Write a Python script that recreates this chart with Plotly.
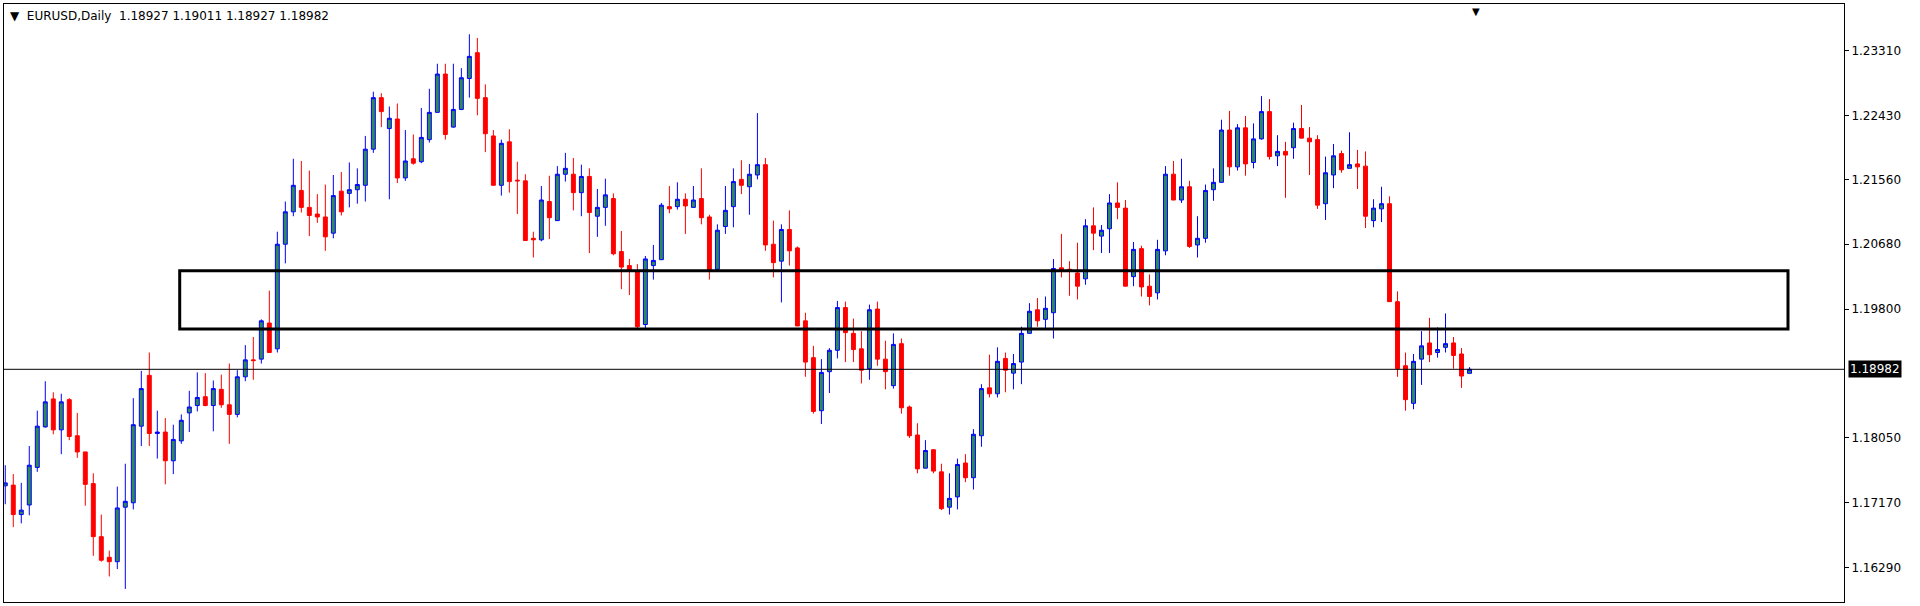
import plotly.graph_objects as go

# daily EURUSD candles (oldest first)
opens = [1.1740, 1.1741, 1.1701, 1.1714, 1.1765, 1.1820, 1.1858, 1.1816, 1.1857, 1.1808,
         1.1786, 1.1743, 1.1671, 1.1643, 1.1637, 1.1711, 1.1717, 1.1821, 1.1890, 1.1811,
         1.1813, 1.1774, 1.1801, 1.1839, 1.1849, 1.1861, 1.1849, 1.1871, 1.1850, 1.1837,
         1.1888, 1.1911, 1.1912, 1.1961, 1.1926, 1.2068, 1.2112, 1.2141, 1.2118, 1.2109,
         1.2105, 1.2083, 1.2140, 1.2137, 1.2142, 1.2148, 1.2197, 1.2267, 1.2225, 1.2238,
         1.2158, 1.2184, 1.2180, 1.2210, 1.2247, 1.2299, 1.2227, 1.2251, 1.2293, 1.2328,
         1.2267, 1.2215, 1.2148, 1.2207, 1.2155, 1.2154, 1.2076, 1.2074, 1.2126, 1.2100,
         1.2163, 1.2163, 1.2138, 1.2160, 1.2106, 1.2118, 1.2130, 1.2058, 1.2039, 1.2031,
         1.1959, 1.2039, 1.2047, 1.2119, 1.2119, 1.2129, 1.2118, 1.2130, 1.2105, 1.2034,
         1.2092, 1.2119, 1.2156, 1.2146, 1.2162, 1.2176, 1.2068, 1.2045, 1.2088, 1.2063,
         1.1964, 1.1914, 1.1842, 1.1895, 1.1924, 1.1982, 1.1947, 1.1926, 1.1899, 1.1980,
         1.1912, 1.1876, 1.1933, 1.1847, 1.1809, 1.1764, 1.1789, 1.1759, 1.1711, 1.1725,
         1.1771, 1.1751, 1.1808, 1.1873, 1.1865, 1.1913, 1.1893, 1.1908, 1.1947, 1.1979,
         1.1966, 1.1975, 1.2036, 1.2034, 1.2029, 1.2021, 1.2093, 1.2079, 1.2089, 1.2124,
         1.2117, 1.2024, 1.2062, 1.2011, 1.2002, 1.2059, 1.2163, 1.2128, 1.2146, 1.2067,
         1.2076, 1.2142, 1.2152, 1.2223, 1.2173, 1.2226, 1.2179, 1.2211, 1.2248, 1.2188,
         1.2194, 1.2199, 1.2225, 1.2212, 1.2210, 1.2123, 1.2162, 1.2191, 1.2171, 1.2177,
         1.2174, 1.2100, 1.2116, 1.2123, 1.1990, 1.1903, 1.1852, 1.1912, 1.1934, 1.1921,
         1.1928, 1.1934, 1.1919, 1.18927]
highs = [1.1768, 1.1756, 1.1744, 1.1794, 1.1842, 1.1882, 1.1867, 1.1865, 1.1859, 1.1839,
         1.1786, 1.1757, 1.1701, 1.1652, 1.1739, 1.1770, 1.1859, 1.1896, 1.1921, 1.1842,
         1.1832, 1.1823, 1.1837, 1.1869, 1.1894, 1.1893, 1.1883, 1.1891, 1.1906, 1.1897,
         1.1931, 1.1942, 1.1966, 1.2005, 1.2085, 1.2126, 1.2184, 1.2181, 1.2168, 1.2136,
         1.2149, 1.2162, 1.2166, 1.2179, 1.2171, 1.2215, 1.2275, 1.2273, 1.2255, 1.2259,
         1.2223, 1.2217, 1.2253, 1.2279, 1.2313, 1.2313, 1.2313, 1.2307, 1.2353, 1.2348,
         1.2285, 1.2223, 1.2210, 1.2224, 1.2180, 1.2163, 1.2085, 1.2147, 1.2161, 1.2174,
         1.2192, 1.2185, 1.2176, 1.2171, 1.2143, 1.2157, 1.2137, 1.2086, 1.2048, 1.2041,
         1.2052, 1.2067, 1.2124, 1.2147, 1.2152, 1.2137, 1.2147, 1.2171, 1.2108, 1.2095,
         1.2147, 1.2171, 1.2182, 1.2177, 1.2246, 1.2185, 1.2100, 1.2095, 1.2114, 1.2065,
         1.1975, 1.1930, 1.1912, 1.1927, 1.1991, 1.1990, 1.1967, 1.1950, 1.1986, 1.1990,
         1.1937, 1.1947, 1.1940, 1.1849, 1.1825, 1.1802, 1.1790, 1.1770, 1.1757, 1.1777,
         1.1783, 1.1817, 1.1878, 1.1918, 1.1928, 1.1921, 1.1919, 1.1956, 1.1988, 1.1995,
         1.1997, 1.2048, 1.2082, 1.2045, 1.2070, 1.2102, 1.2118, 1.2094, 1.2136, 1.2152,
         1.2128, 1.2071, 1.2066, 1.2027, 1.2074, 1.2174, 1.2181, 1.2184, 1.2154, 1.2106,
         1.2149, 1.2171, 1.2237, 1.2249, 1.2231, 1.2242, 1.2232, 1.2269, 1.2265, 1.2216,
         1.2207, 1.2233, 1.2257, 1.2227, 1.2216, 1.2187, 1.2204, 1.2195, 1.2220, 1.2196,
         1.2194, 1.2129, 1.2146, 1.2133, 1.2004, 1.1921, 1.1919, 1.1950, 1.1968, 1.1955,
         1.1974, 1.1942, 1.1927, 1.19011]
lows = [1.1715, 1.1684, 1.1689, 1.1700, 1.1759, 1.1819, 1.1810, 1.1783, 1.1802, 1.1778,
        1.1713, 1.1645, 1.1637, 1.1617, 1.1627, 1.1600, 1.1708, 1.1794, 1.1794, 1.1777,
        1.1742, 1.1756, 1.1797, 1.1813, 1.1841, 1.1848, 1.1814, 1.1846, 1.1797, 1.1833,
        1.1882, 1.1884, 1.1906, 1.1921, 1.1921, 1.2042, 1.2106, 1.2111, 1.2079, 1.2097,
        1.2059, 1.2076, 1.2107, 1.2118, 1.2123, 1.2126, 1.2192, 1.2227, 1.2129, 1.2151,
        1.2154, 1.2176, 1.2178, 1.2206, 1.2247, 1.2210, 1.2226, 1.2250, 1.2267, 1.2243,
        1.2193, 1.2148, 1.2134, 1.2138, 1.2109, 1.2073, 1.2050, 1.2072, 1.2075, 1.2100,
        1.2153, 1.2114, 1.2106, 1.2056, 1.2078, 1.2093, 1.2053, 1.2007, 1.1999, 1.1954,
        1.1953, 1.2020, 1.2047, 1.2110, 1.2115, 1.2082, 1.2118, 1.2095, 1.2020, 1.2031,
        1.2082, 1.2091, 1.2136, 1.2108, 1.2156, 1.2059, 1.2023, 1.1989, 1.2039, 1.1957,
        1.1888, 1.1838, 1.1824, 1.1866, 1.1913, 1.1908, 1.1908, 1.1879, 1.1884, 1.1903,
        1.1871, 1.1872, 1.1838, 1.1805, 1.1757, 1.1764, 1.1757, 1.1707, 1.1701, 1.1708,
        1.1745, 1.1735, 1.1793, 1.1860, 1.1860, 1.1867, 1.1871, 1.1878, 1.1947, 1.1956,
        1.1953, 1.1940, 1.2023, 1.1998, 1.1993, 1.2013, 1.2060, 1.2056, 1.2056, 1.2102,
        1.2011, 1.2011, 1.1997, 1.1985, 1.1993, 1.2053, 1.2128, 1.2124, 1.2063, 1.2050,
        1.2070, 1.2127, 1.2152, 1.2161, 1.2168, 1.2161, 1.2171, 1.2210, 1.2183, 1.2174,
        1.2131, 1.2184, 1.2212, 1.2162, 1.2116, 1.2101, 1.2144, 1.2165, 1.2171, 1.2143,
        1.2090, 1.2091, 1.2098, 1.1990, 1.1888, 1.1842, 1.1844, 1.1877, 1.1908, 1.1914,
        1.1921, 1.1899, 1.1873, 1.18927]
closes = [1.1744, 1.1701, 1.1707, 1.1768, 1.1821, 1.1854, 1.1816, 1.1854, 1.1807, 1.1786,
          1.1742, 1.1671, 1.1639, 1.1637, 1.1710, 1.1719, 1.1823, 1.1872, 1.1811, 1.1813,
          1.1774, 1.1803, 1.1829, 1.1847, 1.1860, 1.1849, 1.1872, 1.1850, 1.1837, 1.1888,
          1.1911, 1.1910, 1.1964, 1.1921, 1.2068, 1.2112, 1.2148, 1.2118, 1.2107, 1.2105,
          1.2078, 1.2134, 1.2112, 1.2142, 1.2149, 1.2197, 1.2267, 1.2248, 1.2239, 1.2158,
          1.2181, 1.2178, 1.2213, 1.2247, 1.2299, 1.2217, 1.2251, 1.2294, 1.2323, 1.2266,
          1.2218, 1.2148, 1.2205, 1.2153, 1.2154, 1.2073, 1.2074, 1.2128, 1.2104, 1.2163,
          1.2171, 1.2138, 1.2160, 1.2111, 1.2118, 1.2135, 1.2055, 1.2037, 1.2031, 1.1956,
          1.2048, 1.2046, 1.2121, 1.2116, 1.2129, 1.2120, 1.2128, 1.2104, 1.2031, 1.2087,
          1.2114, 1.2153, 1.2148, 1.2163, 1.2176, 1.2067, 1.2043, 1.2088, 1.2059, 1.1957,
          1.1908, 1.1841, 1.1894, 1.1924, 1.1982, 1.1948, 1.1925, 1.1897, 1.1979, 1.1912,
          1.1895, 1.1932, 1.1846, 1.1808, 1.1763, 1.1788, 1.1760, 1.1709, 1.1723, 1.1769,
          1.1751, 1.1810, 1.1872, 1.1865, 1.1909, 1.1897, 1.1906, 1.1947, 1.1977, 1.1964,
          1.1981, 1.2035, 1.2031, 1.2031, 1.2011, 1.2093, 1.2083, 1.2087, 1.2124, 1.2118,
          1.2011, 1.2061, 1.2010, 1.1997, 1.2061, 1.2163, 1.2128, 1.2146, 1.2065, 1.2076,
          1.2141, 1.2152, 1.2223, 1.2173, 1.2226, 1.2177, 1.2211, 1.2248, 1.2187, 1.2194,
          1.2189, 1.2225, 1.2212, 1.2207, 1.2121, 1.2165, 1.2188, 1.2169, 1.2176, 1.2173,
          1.2106, 1.2117, 1.2123, 1.1990, 1.1899, 1.1857, 1.1909, 1.1930, 1.1918, 1.1925,
          1.1933, 1.1917, 1.1889, 1.18982]
bar_index = list(range(len(closes)))

tick_vals = [1.23310, 1.22430, 1.21560, 1.20680, 1.19800, 1.18050, 1.17170, 1.16290]
tick_text = ["1.23310", "1.22430", "1.21560", "1.20680", "1.19800", "1.18050", "1.17170", "1.16290"]

zone_top = 1.2032
zone_bottom = 1.1953
zone_start = 21.8
zone_end = 222.8
last_price = 1.18982

fig = go.Figure()
fig.add_trace(go.Candlestick(
    x=bar_index, open=opens, high=highs, low=lows, close=closes,
    increasing=dict(line=dict(color="#0000ff", width=1), fillcolor="#2e8b57"),
    decreasing=dict(line=dict(color="#ff0000", width=1), fillcolor="#ff0000"),
    whiskerwidth=0, hoverinfo="skip", showlegend=False,
))

# support/resistance zone
fig.add_shape(type="rect", x0=zone_start, x1=zone_end, y0=zone_bottom, y1=zone_top,
              line=dict(color="black", width=3), fillcolor="rgba(0,0,0,0)")
# last price line
fig.add_shape(type="line", xref="paper", x0=0, x1=1, y0=last_price, y1=last_price,
              line=dict(color="black", width=1))

fig.add_annotation(xref="paper", x=1.002, y=last_price, xanchor="left", yanchor="middle",
                   text=f"{last_price:.5f}", showarrow=False, bgcolor="black",
                   font=dict(color="white", size=12, family="DejaVu Sans"), borderpad=1)
fig.add_annotation(xref="paper", yref="paper", x=0.002, y=0.995, xanchor="left", yanchor="top",
                   text="▼  EURUSD,Daily  1.18927 1.19011 1.18927 1.18982", showarrow=False,
                   font=dict(color="black", size=12, family="DejaVu Sans"))
fig.add_annotation(xref="paper", yref="paper", x=0.800, y=1.0, xanchor="center", yanchor="top",
                   text="▼", showarrow=False, font=dict(color="black", size=10))

fig.update_layout(
    width=1920, height=606,
    margin=dict(l=4, r=76, t=4, b=4),
    paper_bgcolor="white", plot_bgcolor="white",
    font=dict(family="DejaVu Sans", size=12, color="black"),
    xaxis=dict(range=[-0.16, 229.8], showgrid=False, showticklabels=False, zeroline=False,
               rangeslider=dict(visible=False), showline=True, linecolor="black", mirror=True),
    yaxis=dict(range=[1.15823, 1.23941], side="right", tickvals=tick_vals, ticktext=tick_text,
               ticks="outside", ticklen=4, tickcolor="black", showgrid=False, zeroline=False,
               showline=True, linecolor="black", mirror=True),
)

# drop the page's default body margin so the figure sits at the window corner
fig.write_html("out.html", config={"displayModeBar": False},
               post_script="document.body.style.margin='0';")
